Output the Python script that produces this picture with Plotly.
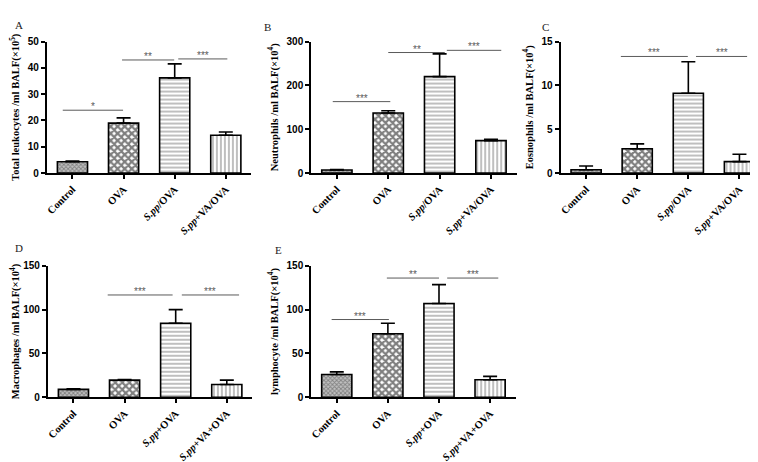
import plotly.graph_objects as go

# ---------------- data ----------------
groups_top = ["Control", "OVA", "<i>S.pp</i>/OVA", "<i>S.pp</i>+VA/OVA"]
groups_bottom = ["Control", "OVA", "<i>S.pp</i>+OVA", "<i>S.pp</i>+VA+OVA"]

leukocytes = [4.3, 19.0, 36.2, 14.4]
leukocytes_err = [0.3, 2.0, 5.3, 1.2]
neutrophils = [7.0, 137.0, 220.0, 74.0]
neutrophils_err = [1.0, 5.0, 52.0, 3.0]
eosinophils = [0.37, 2.78, 9.1, 1.3]
eosinophils_err = [0.43, 0.55, 3.6, 0.85]
macrophages = [9.0, 19.6, 84.5, 14.6]
macrophages_err = [0.6, 0.5, 15.5, 5.0]
lymphocytes = [26.0, 72.4, 107.0, 20.0]
lymphocytes_err = [3.0, 12.0, 21.5, 3.8]

# significance comparisons: (start, end) in group units, bar height, label
sig_A = [(-0.19, 0.99, 23.9, "*"), (0.97, 1.99, 43.0, "**"), (2.07, 3.03, 43.4, "***")]
sig_B = [(-0.08, 1.04, 163, "***"), (1.0, 2.1, 275, "**"), (2.14, 3.2, 280, "***")]
sig_C = [(0.68, 1.99, 13.3, "***"), (2.15, 3.15, 13.3, "***")]
sig_D = [(0.67, 1.94, 116.7, "***"), (2.12, 3.24, 116.7, "***")]
sig_E = [(-0.1, 1.02, 88.7, "***"), (0.98, 2.0, 136, "**"), (2.16, 3.16, 136, "***")]

titles = [
    "Total leukocytes /ml BALF(×10<sup>5</sup>)",
    "Neutrophils /ml BALF(×10<sup>4</sup>)",
    "Eosnophils /ml BALF(×10<sup>4</sup>)",
    "Macrophages /ml BALF(×10<sup>4</sup>)",
    "lymphocyte /ml BALF(×10<sup>4</sup>)",
]
panel_letters = ["A", "B", "C", "D", "E"]
y_ranges = [(0, 50, 10), (0, 300, 100), (0, 15, 5), (0, 150, 50), (0, 150, 50)]

panels = [
    (groups_top, leukocytes, leukocytes_err, sig_A),
    (groups_top, neutrophils, neutrophils_err, sig_B),
    (groups_top, eosinophils, eosinophils_err, sig_C),
    (groups_bottom, macrophages, macrophages_err, sig_D),
    (groups_bottom, lymphocytes, lymphocytes_err, sig_E),
]

# ---------------- layout geometry (pixels of 758x462) ----------------
W, H = 758, 462
x_dom_px = [(37, 242), (302, 508), (552, 757), (38, 243), (302, 507)]
y_dom_px = [(28.3, 163.3)] * 3 + [(258.5, 393.5)] * 2
letter_pos = [(3, 3), (253, 5), (531, 5), (3, 232), (264, 234)]

patterns = [
    dict(shape="x", size=3, solidity=0.5, fgcolor="#444444", bgcolor="#c0c0c0"),
    dict(shape="x", size=5, solidity=0.7, fgcolor="#000000", bgcolor="#ffffff"),
    dict(shape="-", size=4, solidity=0.25, fgcolor="#000000", bgcolor="#ffffff"),
    dict(shape="|", size=4, solidity=0.25, fgcolor="#000000", bgcolor="#ffffff"),
]

serif = "Liberation Serif"
sans = "Liberation Sans"
sig_color = "#5a5a5a"

fig = go.Figure()
layout = dict(
    width=W, height=H, margin=dict(l=0, r=0, t=0, b=0),
    paper_bgcolor="white", plot_bgcolor="white", showlegend=False,
    bargap=0.41,
)
shapes = []
annotations = []

for i, (cats, vals, errs, sigs) in enumerate(panels):
    xa = "x" if i == 0 else f"x{i+1}"
    ya = "y" if i == 0 else f"y{i+1}"
    xkey = "xaxis" if i == 0 else f"xaxis{i+1}"
    ykey = "yaxis" if i == 0 else f"yaxis{i+1}"
    idx = list(range(len(cats)))
    for k in idx:
        fig.add_trace(go.Bar(
            x=[idx[k]], y=[vals[k]], xaxis=xa, yaxis=ya, width=0.59,
            marker=dict(color="white", line=dict(color="black", width=1.6),
                        pattern=patterns[k]),
            error_y=dict(type="data", array=[errs[k]], arrayminus=[0],
                         symmetric=False, color="black", thickness=1.6, width=7),
        ))
    x0, x1 = x_dom_px[i]
    y0, y1 = y_dom_px[i]
    lo, hi, dt = y_ranges[i]
    layout[xkey] = dict(
        domain=[x0 / W, x1 / W], range=[-0.5, 3.5], anchor=ya,
        tickvals=idx, ticktext=cats, tickangle=-45,
        tickfont=dict(family=serif, size=10.5, color="black", weight="bold"),
        showline=True, linecolor="black", linewidth=2, ticks="outside",
        ticklen=4, tickwidth=1.5, tickcolor="black", showgrid=False, zeroline=False,
        fixedrange=True,
    )
    layout[ykey] = dict(
        domain=[1 - y1 / H, 1 - y0 / H], range=[lo, hi], anchor=xa,
        tickmode="linear", tick0=0, dtick=dt,
        tickfont=dict(family=sans, size=10, color="black", weight="bold"),
        showline=True, linecolor="black", linewidth=2, ticks="outside",
        ticklen=4, tickwidth=1.5, tickcolor="black", showgrid=False, zeroline=False,
        title=dict(text=titles[i], standoff=6,
                   font=dict(family=serif, size=10.5, color="black", weight="bold")),
    )
    for (s, e, h, lab) in sigs:
        shapes.append(dict(type="line", xref=xa, yref=ya, x0=s, x1=e, y0=h, y1=h,
                           line=dict(color=sig_color, width=1)))
        annotations.append(dict(xref=xa, yref=ya, x=(s + e) / 2, y=h, text=lab,
                                showarrow=False, yanchor="bottom", yshift=-4,
                                font=dict(family=sans, size=10, color=sig_color)))
    lx, ly = letter_pos[i]
    annotations.append(dict(xref="paper", yref="paper", x=lx / W, y=1 - ly / H,
                            xanchor="left", yanchor="top", text=panel_letters[i],
                            showarrow=False,
                            font=dict(family=serif, size=11, color="#222222")))

layout["shapes"] = shapes
layout["annotations"] = annotations
fig.update_layout(**layout)
fig.write_html("out.html")
